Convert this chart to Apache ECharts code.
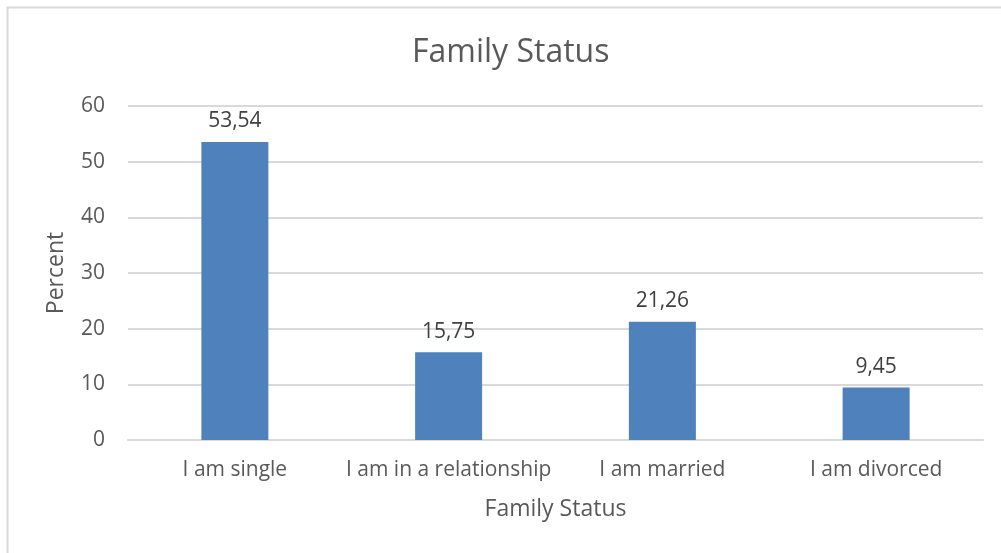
<!DOCTYPE html>
<html>
<head>
<meta charset="utf-8">
<script src="https://cdn.jsdelivr.net/npm/echarts@6/dist/echarts.min.js"></script>
<style>
  html, body { margin: 0; padding: 0; background: #fff; }
  #chart { width: 1001px; height: 553px; }
</style>
</head>
<body>
<div id="chart"></div>
<script>
// data
const categories = ['I am single', 'I am in a relationship', 'I am married', 'I am divorced'];
const percents = [53.54, 15.75, 21.26, 9.45];
const yTicks = { min: 0, max: 60, step: 10 };

const font = '"Open Sans", sans-serif';
const textGrey = '#595959';

const chart = echarts.init(document.getElementById('chart'));
chart.setOption({
  animation: false,
  backgroundColor: '#fff',
  graphic: [{
    type: 'rect',
    shape: { x: 7.5, y: 7.5, width: 1100, height: 700 },
    style: { fill: 'none', stroke: '#d9d9d9', lineWidth: 2 },
    silent: true
  }],
  title: {
    text: 'Family Status',
    left: 412,
    top: 37,
    padding: 0,
    textStyle: { fontFamily: font, fontSize: 32, fontWeight: 'normal', color: textGrey }
  },
  grid: { left: 128, right: 18, top: 106, bottom: 113 },
  xAxis: {
    type: 'category',
    data: categories,
    name: 'Family Status',
    nameLocation: 'middle',
    nameGap: 58,
    nameTextStyle: { fontFamily: font, fontSize: 23, color: textGrey },
    axisLine: { lineStyle: { color: '#d9d9d9', width: 2 } },
    axisTick: { show: false },
    axisLabel: { interval: 0, fontFamily: font, fontSize: 21, color: textGrey, margin: 20 }
  },
  yAxis: {
    type: 'value',
    min: yTicks.min,
    max: yTicks.max,
    interval: yTicks.step,
    name: 'Percent',
    nameLocation: 'middle',
    nameGap: 60,
    nameTextStyle: { fontFamily: font, fontSize: 23, color: textGrey },
    axisLine: { show: false },
    axisTick: { show: false },
    axisLabel: { fontFamily: font, fontSize: 21, color: textGrey, margin: 23 },
    splitLine: { lineStyle: { color: '#d9d9d9', width: 2 } }
  },
  series: [{
    type: 'bar',
    data: percents,
    barWidth: 67,
    itemStyle: { color: '#4f81bd' },
    label: {
      show: true,
      position: 'top',
      distance: 10,
      fontFamily: font,
      fontSize: 21,
      color: '#404040',
      formatter: p => p.value.toFixed(2).replace('.', ',')
    }
  }]
});
</script>
</body>
</html>
